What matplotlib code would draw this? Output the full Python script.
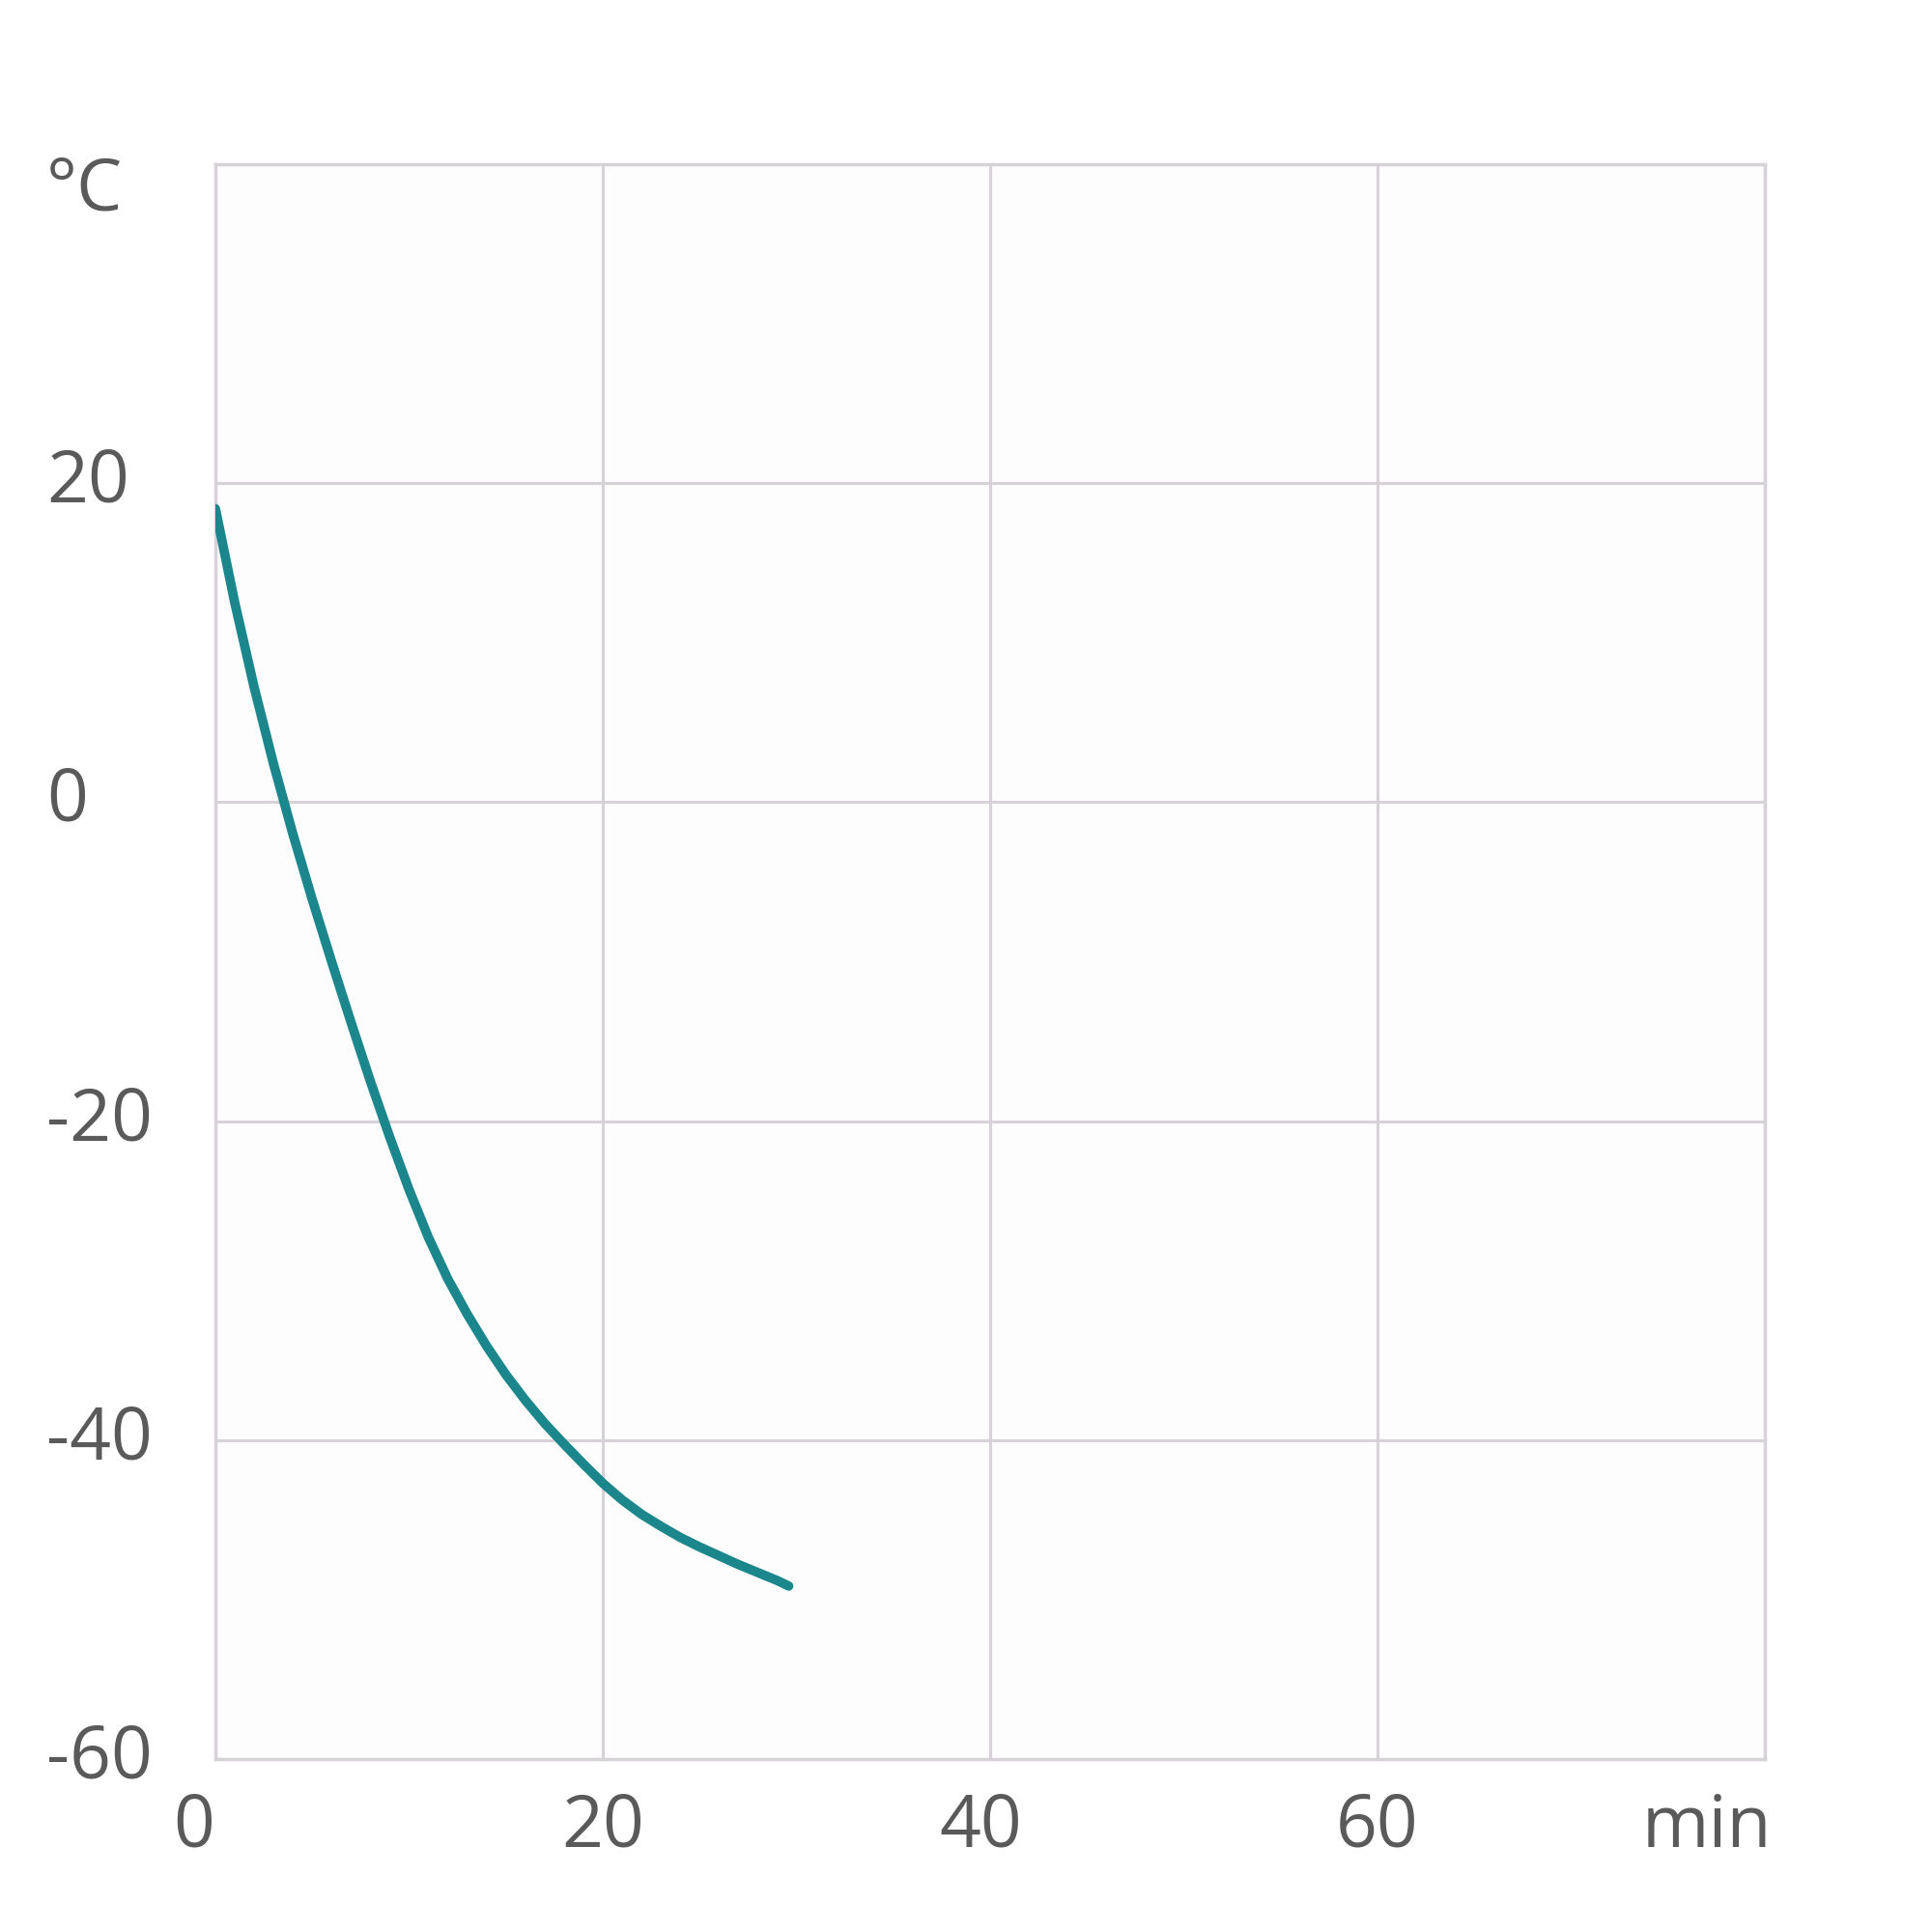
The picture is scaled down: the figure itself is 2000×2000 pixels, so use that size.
import matplotlib.pyplot as plt
from matplotlib import transforms

# cooling curve, one reading per minute
time_min = [0, 1, 2, 3, 4, 5, 6, 7, 8, 9, 10, 11, 12, 13, 14, 15, 16, 17, 18,
            19, 20, 21, 22, 23, 24, 25, 26, 27, 28, 29, 29.6]
temp_c = [18.4, 12.5, 7.2, 2.4, -2.0, -6.1, -10.0, -13.8, -17.5, -21.0, -24.3,
          -27.3, -29.9, -32.1, -34.1, -35.9, -37.5, -38.95, -40.25, -41.5,
          -42.7, -43.75, -44.65, -45.4, -46.1, -46.7, -47.25, -47.8, -48.3,
          -48.8, -49.15]

x_ticks = [0, 20, 40, 60]
y_ticks = [-60, -40, -20, 0, 20]

text_col = '#5a5a5a'
grid_col = '#d6d2d8'
line_col = '#1b878d'

plt.rcParams['font.family'] = ['Open Sans', 'DejaVu Sans']

fig = plt.figure(figsize=(20, 20), dpi=100)
ax = fig.add_axes([0.1115, 0.0895, 0.802, 0.8255])
ax.set_facecolor('#fefdfe')

ax.plot(time_min, temp_c, color=line_col, lw=7, solid_capstyle='round',
        solid_joinstyle='round', zorder=3)

ax.set_xlim(0, 80)
ax.set_ylim(-60, 40)
ax.set_xticks([0, 20, 40, 60, 80])
ax.set_yticks([-60, -40, -20, 0, 20, 40])
ax.grid(True, color=grid_col, lw=2.2)
ax.tick_params(length=0, labelbottom=False, labelleft=False)
for s in ax.spines.values():
    s.set_color(grid_col)
    s.set_linewidth(2.5)

fs = 54
# y labels, left aligned at the figure edge
ytr = transforms.blended_transform_factory(fig.transFigure, ax.transData)
for v in y_ticks:
    ax.text(0.024, v, str(v), transform=ytr, ha='left', va='center',
            fontsize=fs, color=text_col)
ax.text(0.024, 38.3, '°C', transform=ytr, ha='left', va='center',
        fontsize=fs, color=text_col)

# x labels
xtr = transforms.blended_transform_factory(ax.transData, fig.transFigure)
x_off = {0: -1.1, 40: -0.5}
for v in x_ticks:
    ax.text(v + x_off.get(v, 0), 0.054, str(v), transform=xtr, ha='center',
            va='center', fontsize=fs, color=text_col)
ax.text(77, 0.054, 'min', transform=xtr, ha='center', va='center',
        fontsize=fs, color=text_col)

fig.savefig('out.png', dpi=100, facecolor='white')
